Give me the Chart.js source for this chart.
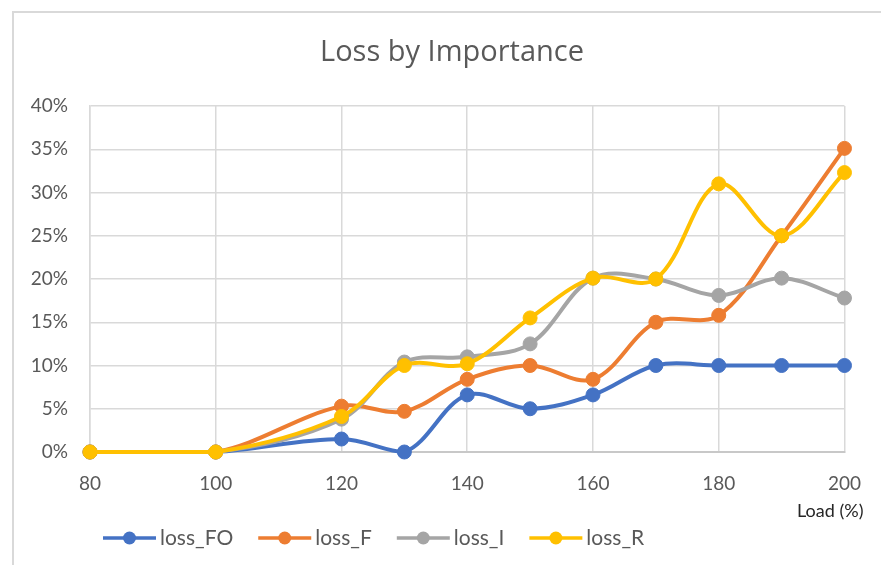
<!DOCTYPE html>
<html>
<head>
<meta charset="utf-8">
<script src="https://cdn.jsdelivr.net/npm/chart.js@4.4.1/dist/chart.umd.min.js"></script>
<style>
  html, body { margin: 0; padding: 0; background: #fff; }
</style>
</head>
<body>
<canvas id="lossChart" width="881" height="565"></canvas>
<script>
// DATA (loss in %)
const loads = [80, 100, 120, 130, 140, 150, 160, 170, 180, 190, 200];
const lossFO = [0, 0, 1.5, 0, 6.6, 5.0, 6.6, 10, 10, 10, 10];
const lossF = [0, 0, 5.3, 4.7, 8.4, 10, 8.4, 15, 15.8, 25, 35.1];
const lossI = [0, 0, 3.8, 10.4, 11.0, 12.5, 20.1, 20, 18.1, 20.1, 17.8];
const lossR = [0, 0, 4.1, 10.0, 10.2, 15.5, 20.1, 20, 31, 25, 32.3];
const xTickValues = [80, 100, 120, 140, 160, 180, 200];
const yTickValues = [0, 5, 10, 15, 20, 25, 30, 35, 40];

const GRID = "#d9d9d9";
const TEXT = "#595959";

Chart.defaults.font.family = "Lato";

function points(values) {
  return loads.map((x, i) => ({ x: x, y: values[i] }));
}

function series(label, values, color, order) {
  return {
    label: label,
    data: points(values),
    borderColor: color,
    backgroundColor: color,
    borderWidth: 4,
    pointRadius: 7,
    pointBorderWidth: 1,
    pointHoverRadius: 7,
    tension: 0.35,
    clip: false,
    order: order,
  };
}

// outer chart frame (left + top edge visible in the picture)
const framePlugin = {
  id: "frame",
  afterLayout(chart) {
    // the original chart box runs past the right edge, so the title sits right of centre
    if (chart.titleBlock) {
      chart.titleBlock.left = 12;
      chart.titleBlock.right = 892;
    }
  },
  beforeDraw(chart) {
    const ctx = chart.ctx;
    ctx.save();
    ctx.strokeStyle = GRID;
    ctx.lineWidth = 2;
    ctx.beginPath();
    ctx.moveTo(13, chart.height);
    ctx.lineTo(13, 12);
    ctx.lineTo(chart.width, 12);
    ctx.stroke();
    ctx.restore();
  },
};

// axis title + legend with line/marker samples
const extrasPlugin = {
  id: "extras",
  afterDraw(chart) {
    const ctx = chart.ctx;
    const area = chart.chartArea;
    ctx.save();
    ctx.font = "18px Lato";
    ctx.fillStyle = "#262626";
    ctx.textAlign = "right";
    ctx.textBaseline = "middle";
    ctx.fillText("Load (%)", area.right + 19, 511);

    ctx.font = "21px Lato";
    ctx.textAlign = "left";
    let x = 103;
    const y = 538;
    chart.data.datasets.forEach((ds) => {
      ctx.strokeStyle = ds.borderColor;
      ctx.lineWidth = 3.5;
      ctx.beginPath();
      ctx.moveTo(x, y);
      ctx.lineTo(x + 53, y);
      ctx.stroke();
      ctx.fillStyle = ds.borderColor;
      ctx.beginPath();
      ctx.arc(x + 26.5, y, 6.5, 0, Math.PI * 2);
      ctx.fill();
      ctx.fillStyle = TEXT;
      ctx.fillText(ds.label, x + 57, y);
      x += 57 + ctx.measureText(ds.label).width + 25;
    });
    ctx.restore();
  },
};

const ctxLoss = document.getElementById("lossChart");

new Chart(ctxLoss, {
  type: "line",
  data: {
    datasets: [
      series("loss_FO", lossFO, "#4472C4", 3),
      series("loss_F", lossF, "#ED7D31", 2),
      series("loss_I", lossI, "#A5A5A5", 1),
      series("loss_R", lossR, "#FFC000", 0),
    ],
  },
  options: {
    responsive: false,
    animation: false,
    layout: {
      padding: { left: 12, right: 35, top: 0, bottom: 0 },
    },
    scales: {
      x: {
        type: "linear",
        min: 80,
        max: 200,
        afterBuildTicks: (scale) => {
          scale.ticks = xTickValues.map((v) => ({ value: v }));
        },
        afterFit: (scale) => {
          scale.height = 113;
        },
        grid: { color: GRID, lineWidth: 1.5, drawTicks: false },
        border: { color: "#c8c8c8", width: 2 },
        ticks: { color: TEXT, font: { size: 19 }, padding: 20, maxRotation: 0 },
      },
      y: {
        min: 0,
        max: 40,
        afterBuildTicks: (scale) => {
          scale.ticks = yTickValues.map((v) => ({ value: v }));
        },
        afterFit: (scale) => {
          scale.width = 78;
        },
        grid: { color: GRID, lineWidth: 1.5, drawTicks: false },
        border: { color: GRID, width: 1.5 },
        ticks: {
          color: TEXT,
          font: { size: 19 },
          padding: 22,
          callback: (v) => v + "%",
        },
      },
    },
    plugins: {
      legend: { display: false },
      tooltip: { enabled: false },
      title: {
        display: true,
        text: "Loss by Importance",
        color: TEXT,
        font: { family: "Open Sans", size: 29, weight: "normal" },
        padding: { top: 35, bottom: 36.2 },
      },
    },
  },
  plugins: [framePlugin, extrasPlugin],
});
</script>
</body>
</html>
